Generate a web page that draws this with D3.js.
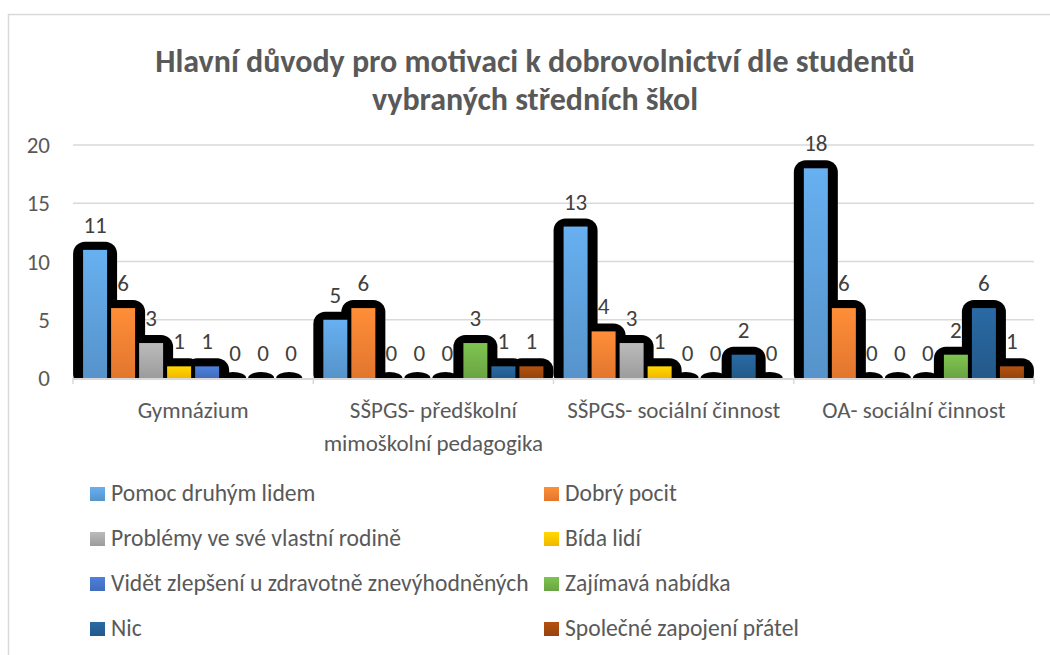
<!DOCTYPE html>
<html>
<head>
<meta charset="utf-8">
<script src="https://cdn.jsdelivr.net/npm/d3@7"></script>
<style>
  body { margin: 0; background: #fff; }
  text { font-family: Carlito, Calibri, Lato, sans-serif; }
</style>
</head>
<body>
<script>
var width = 1050;
var height = 655;

// data
var categories = ["Gymnázium", "SŠPGS- předškolní mimoškolní pedagogika", "SŠPGS- sociální činnost", "OA- sociální činnost"];
var seriesNames = ["Pomoc druhým lidem", "Dobrý pocit", "Problémy ve své vlastní rodině", "Bída lidí",
    "Vidět zlepšení u zdravotně znevýhodněných", "Zajímavá nabídka", "Nic", "Společné zapojení přátel"];
var seriesColors = ["#5B9BD5", "#ED7D31", "#A5A5A5", "#FFC000", "#4472C4", "#70AD47", "#255E91", "#9E480E"];
var pomoc = [11, 5, 13, 18];
var dobry = [6, 6, 4, 6];
var problemy = [3, 0, 3, 0];
var bida = [1, 0, 1, 0];
var zlepseni = [1, 0, 0, 0];
var nabidka = [0, 3, 0, 2];
var nic = [0, 1, 2, 6];
var pratele = [0, 1, 0, 1];
var yTicks = [0, 5, 10, 15, 20];
var titleLines = ["Hlavní důvody pro motivaci k dobrovolnictví dle studentů", "vybraných středních škol"];

var seriesValues = [pomoc, dobry, problemy, bida, zlepseni, nabidka, nic, pratele];

var svg = d3.select("body").append("svg")
    .attr("width", width)
    .attr("height", height)

// chart frame
svg.append("rect")
    .attr("x", 8.5).attr("y", 14.5)
    .attr("width", 1100).attr("height", 700)
    .attr("fill", "#fff")
    .attr("stroke", "#d9d9d9")
    .attr("stroke-width", 1.5)

// gradients per series
var defs = svg.append("defs");
seriesColors.forEach(function (c, i) {
    var g = defs.append("linearGradient")
        .attr("id", "grad" + i)
        .attr("x1", 0).attr("y1", 0).attr("x2", 0).attr("y2", 1);
    g.append("stop").attr("offset", "0%").attr("stop-color", d3.color(c).brighter(0.35));
    g.append("stop").attr("offset", "100%").attr("stop-color", d3.color(c).darker(0.15));
});

// title
svg.append("g").selectAll("text")
    .data(titleLines)
    .enter().append("text")
    .attr("x", 535)
    .attr("y", function (d, i) { return 72 + i * 38; })
    .attr("text-anchor", "middle")
    .style("font-size", "32px")
    .style("font-weight", "bold")
    .style("fill", "#595959")
    .text(function (d) { return d; });

var x0 = d3.scaleBand()
    .domain(categories)
    .range([73, 1034]);

var x1 = d3.scaleBand()
    .domain(d3.range(seriesNames.length))
    .range([0, x0.bandwidth()])
    .paddingInner(0.143)
    .paddingOuter(0.36);

var y = d3.scaleLinear()
    .domain([0, 20])
    .range([378, 145]);

// gridlines
svg.append("g").selectAll("line")
    .data(yTicks.slice(1))
    .enter().append("line")
    .attr("x1", 73).attr("x2", 1034)
    .attr("y1", function (d) { return y(d); })
    .attr("y2", function (d) { return y(d); })
    .attr("stroke", "#d9d9d9")
    .attr("stroke-width", 1.5);

// y labels
svg.append("g").selectAll("text")
    .data(yTicks)
    .enter().append("text")
    .attr("x", 50)
    .attr("y", function (d) { return y(d) + 8; })
    .attr("text-anchor", "end")
    .style("font-size", "23px")
    .style("fill", "#595959")
    .text(function (d) { return d; });

// flatten bars
var bars = [];
seriesValues.forEach(function (vals, s) {
    vals.forEach(function (v, c) {
        bars.push({ s: s, cat: categories[c], v: v });
    });
});

function barX(d) { return x0(d.cat) + x1(d.s); }
function glowPad(d) { return d.v > 0 ? 10 : 1; }
function glowTop(d) { return d.v > 0 ? 8 : 6; }

// black glow behind bars
svg.append("g").selectAll("rect")
    .data(bars)
    .enter().append("rect")
    .attr("x", function (d) { return barX(d) - glowPad(d) - (d.v > 0 ? 0 : 2); })
    .attr("y", function (d) { return y(d.v) - glowTop(d); })
    .attr("width", function (d) { return x1.bandwidth() + 2 * glowPad(d); })
    .attr("height", function (d) { return y(0) - y(d.v) + glowTop(d) * 2; })
    .attr("rx", function (d) { return d.v > 0 ? 12 : 13; })
    .attr("ry", function (d) { return d.v > 0 ? 12 : 6; })
    .attr("fill", "#000");

// cover glow below baseline
svg.append("rect")
    .attr("x", 60).attr("y", y(0))
    .attr("width", 990).attr("height", 12)
    .attr("fill", "#fff");

// bars
svg.append("g").selectAll("rect")
    .data(bars)
    .enter().append("rect")
    .attr("x", barX)
    .attr("y", function (d) { return y(d.v); })
    .attr("width", x1.bandwidth())
    .attr("height", function (d) { return y(0) - y(d.v); })
    .attr("fill", function (d) { return "url(#grad" + d.s + ")"; });

// baseline + ticks
svg.append("line")
    .attr("x1", 73).attr("x2", 1034)
    .attr("y1", y(0) + 1).attr("y2", y(0) + 1)
    .attr("stroke", "#d9d9d9").attr("stroke-width", 2);
svg.append("g").selectAll("line")
    .data(categories.concat(["end"]))
    .enter().append("line")
    .attr("x1", function (d, i) { return 73 + i * x0.bandwidth(); })
    .attr("x2", function (d, i) { return 73 + i * x0.bandwidth(); })
    .attr("y1", y(0)).attr("y2", y(0) + 6)
    .attr("stroke", "#d9d9d9").attr("stroke-width", 1.5);

// data labels
svg.append("g").selectAll("text")
    .data(bars)
    .enter().append("text")
    .attr("x", function (d) { return barX(d) + x1.bandwidth() / 2; })
    .attr("y", function (d) { return y(d.v) - 17; })
    .attr("text-anchor", "middle")
    .style("font-size", "23px")
    .style("fill", "#404040")
    .text(function (d) { return d.v; });

// category labels, wrapped
var catLabels = svg.append("g").selectAll("text")
    .data(categories)
    .enter().append("text")
    .attr("x", function (d) { return x0(d) + x0.bandwidth() / 2; })
    .attr("y", 418)
    .attr("text-anchor", "middle")
    .style("font-size", "23px")
    .style("fill", "#595959")
    .each(function (d) {
        var t = d3.select(this);
        var words = d.split(" ");
        var line = [];
        var tspan = t.append("tspan").attr("x", t.attr("x")).attr("dy", 0);
        words.forEach(function (w) {
            line.push(w);
            tspan.text(line.join(" "));
            if (tspan.node().getComputedTextLength() > 270 && line.length > 1) {
                line.pop();
                tspan.text(line.join(" "));
                line = [w];
                tspan = t.append("tspan").attr("x", t.attr("x")).attr("dy", 33).text(w);
            }
        });
    });

// legend
var legend = svg.append("g").selectAll("g")
    .data(seriesNames)
    .enter().append("g")
    .attr("transform", function (d, i) {
        return "translate(" + (i % 2 === 0 ? 90 : 544) + "," + (487 + Math.floor(i / 2) * 45) + ")";
    });
legend.append("rect")
    .attr("width", 15).attr("height", 14)
    .attr("fill", function (d, i) { return "url(#grad" + i + ")"; });
legend.append("text")
    .attr("x", 21).attr("y", 14)
    .style("font-size", "23.6px")
    .style("fill", "#595959")
    .text(function (d) { return d; });
</script>
</body>
</html>
